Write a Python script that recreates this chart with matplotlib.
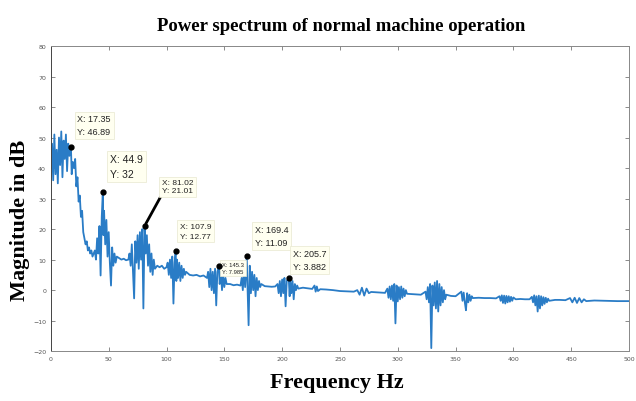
import matplotlib
matplotlib.use("Agg")
import matplotlib.pyplot as plt
from matplotlib import font_manager

# spectrum (Hz, dB)
freq = [0, 1, 2, 3, 4, 5, 6, 7, 8, 9, 10, 11, 12, 13, 14, 15, 16, 17.35, 18, 19,
        20, 21, 22, 23, 24, 25, 26, 27, 28, 29, 30, 31, 32, 33, 34, 35, 36, 37,
        38, 39, 40, 41, 42, 43, 44, 44.9, 45.5, 46, 47, 48, 49, 50, 51, 52, 53, 54, 55, 56, 57,
        59, 61, 63, 65, 67,
        68, 69, 70, 71, 72, 73, 74, 75, 76, 77, 78, 79, 80, 81.02, 82, 83, 84, 85, 86, 87, 88, 89, 90,
        92, 94, 96, 98, 100,
        101, 102, 103, 104, 105, 106, 107, 107.9, 108.5, 109, 110, 111, 112, 113, 114, 115, 116, 117,
        120, 123, 126, 129, 132, 135,
        136, 137, 138, 139, 140, 141, 142, 143, 144, 145.3, 146, 147, 148, 149, 150, 151, 152,
        155, 158, 161, 164,
        165, 166, 167, 168, 169.4, 170, 171, 172, 173, 174, 175, 176, 177, 178, 179, 180, 181, 182,
        185, 188, 191, 194,
        196, 197, 198, 199, 200, 201, 202, 203, 204, 205.7, 206.5, 207, 208, 209, 210, 211, 212, 213, 214,
        218, 222, 226, 228, 229, 230, 231, 233, 238, 244, 250, 256, 262,
        265, 267, 269, 271, 273, 275, 277, 281, 285, 289,
        291, 292, 293, 294, 295, 296, 297, 298, 299, 300, 301, 302, 303, 304, 305, 306, 307, 308,
        312, 316, 320,
        324, 325, 326, 327, 328, 329, 330, 331, 332, 333, 334, 335, 336, 337, 338, 339, 340, 341, 342,
        346, 350,
        355, 356, 357, 358, 359, 360, 361, 362, 363, 364, 365,
        370, 375, 380, 385,
        388, 389, 390, 391, 392, 393, 394, 395, 396, 397, 398, 399, 400, 402,
        406, 410, 414,
        416, 417, 418, 419, 420, 421, 422, 423, 424, 425, 426, 427, 428, 429, 430, 431,
        436, 440, 445,
        449, 451, 453, 455, 457, 459, 461, 463,
        470, 480, 490, 500]
mag = [40, 48, 36, 51, 38, 46, 35, 50, 41, 52, 37, 49, 43, 51, 39, 48, 44, 46.89, 38, 42,
       40, 43, 34, 37, 29, 31, 24, 26, 19, 17, 15, 16, 13, 14, 12, 13, 11, 12,
       13, 10, 17, 12, 21, 4.8, 24, 32, 18, 26, 15, 23, 11, 19, 9, 1.5, 14, 8, 12, 9, 11,
       10.5, 10, 10.3, 9.8, 10,
       12, 8, 15, 6, -2.7, 16, 9, 18, 7, 19, 10, 20, -6, 21.01, 12, 18, 8, 15, 6, 12, 5, 10, 7,
       8, 7.5, 8, 7, 7.5,
       9, 5, 10, 4, 11, -4.4, 9, 12.77, 3, 10, 4, 9, 3, 8, 4, 7, 5, 6,
       5, 4.8, 5, 4.5, 4.8, 4,
       6, 1, 7, 0, 6, -1, 7, -5, 6, 7.985, 2, 6, 0, 5, 1, 4, 2,
       2, 1.6, 1.8, 1.5,
       4, 0, 7, 1, 11.09, 2, -11.5, 8, -1, 6, 0, 5, -2, 4, 0, 3, 1, 2,
       1.3, 1.2, 1.1, 1.2,
       2, -1, 3, -2, 3.5, -1, 4, -5.3, 3, 3.882, -2, 3, -1, 3, -3, 2, 0, 1.5, 0.5,
       0.8, 0.6, 0.4, 1.5, -0.5, 1.2, -0.3, 0.3, 0.2, 0, -0.3, -0.4, -0.5,
       0, -1.5, 0.8, -1.8, 0.5, -1, -0.6, -0.7, -0.8, -0.9,
       0.5, -2.5, 1.2, -3, 1.5, -3.5, 2, -10.9, 1.5, -3.7, 1, -3, 1.2, -2.5, 0.5, -2, 0, -1.2,
       -1.3, -1.4, -1.5,
       -0.5, -3, 1, -4, 2, -19, 1.5, -5, 2.5, -6, 3, -7, 2, -5, 1, -4, 0, -3, -1.5,
       -1.9, -2,
       -0.5, -3.5, -0.8, -4, -6.6, -1, -4, -1.5, -3.5, -2, -2.6,
       -2.5, -2.6, -2.6, -2.7,
       -2, -3.5, -1.7, -4.2, -1.8, -4.4, -1.9, -4, -2, -3.8, -2.2, -3.5, -2.4, -3,
       -2.9, -3, -3,
       -2.2, -4, -1.7, -5, -2, -7, -1.8, -6, -2, -5, -2.3, -4.5, -2.5, -4, -2.8, -3.5,
       -3.2, -3.2, -3.3,
       -2.6, -4, -2.5, -4.2, -2.6, -4, -3, -3.6,
       -3.4, -3.5, -3.6, -3.6]

# data tips
tip_x = [17.35, 44.9, 81.02, 107.9, 145.3, 169.4, 205.7]
tip_y = [46.89, 32, 21.01, 12.77, 7.985, 11.09, 3.882]
tip_xlabel = ["17.35", "44.9", "81.02", "107.9", "145.3", "169.4", "205.7"]
tip_ylabel = ["46.89", "32", "21.01", "12.77", "7.985", "11.09", "3.882"]
tip_text_pos = [(23, 54), (51, 40.5), (96, 33.8), (111.5, 19.3), (148, 7.3), (176.5, 17.7), (209, 9.8)]
tip_size = [6.5, 7.5, 6, 6, 4.2, 6.5, 6.5]

title_font = "Liberation Serif"
for f in font_manager.fontManager.ttflist:
    if "Condensed" in f.name and "Serif" in f.name:
        title_font = f.name
        break

fig = plt.figure(figsize=(6.36, 4.02), dpi=100)
ax = fig.add_axes([0.080, 0.124, 0.909, 0.759])

ax.plot(freq, mag, color="#2a7cc6", lw=1.3)

for i in range(len(tip_x)):
    ax.plot(tip_x[i], tip_y[i], "o", color="black", ms=3.5, zorder=5)
    txt = "X: " + tip_xlabel[i] + "\nY: " + tip_ylabel[i]
    tx, ty = tip_text_pos[i]
    if i == 2:
        ax.annotate(txt, xy=(tip_x[i], tip_y[i]), xytext=(tx, ty), va="center", ha="left",
                    fontsize=tip_size[i], family="Liberation Sans", color="#222222",
                    bbox=dict(boxstyle="square,pad=0.3", fc="#fffff0", ec="#e8e8d0", lw=0.5),
                    arrowprops=dict(arrowstyle="-", color="black", lw=2, shrinkA=0, shrinkB=2,
                                    relpos=(0.0, 0.0)))
    else:
        ax.text(tx, ty, txt, va="center", ha="left", fontsize=tip_size[i],
                family="Liberation Sans", color="#222222", linespacing=1.6,
                bbox=dict(boxstyle="square,pad=0.3", fc="#fffff0", ec="#e8e8d0", lw=0.5))

ax.set_xlim(0, 500)
ax.set_ylim(-20, 80)
ax.set_xticks(range(0, 501, 50))
ax.set_yticks(range(-20, 81, 10))
ax.tick_params(direction="in", top=True, right=True, labelsize=4.5, labelcolor="#555555",
               color="#777777", length=3, width=0.6)
for s in ax.spines.values():
    s.set_color("#888888")
    s.set_linewidth(0.7)
ax.spines["left"].set_color("#444444")

fig.text(0.536, 0.935, "Power spectrum of normal machine operation", ha="center", va="center",
         fontsize=13.5, fontweight="bold", family=title_font)
fig.text(0.530, 0.047, "Frequency Hz", ha="center", va="center",
         fontsize=16, fontweight="bold", family=title_font)
fig.text(0.031, 0.453, "Magnitude in dB", ha="center", va="center", rotation=90,
         fontsize=16, fontweight="bold", family=title_font)

fig.savefig("out.png", dpi=100)
